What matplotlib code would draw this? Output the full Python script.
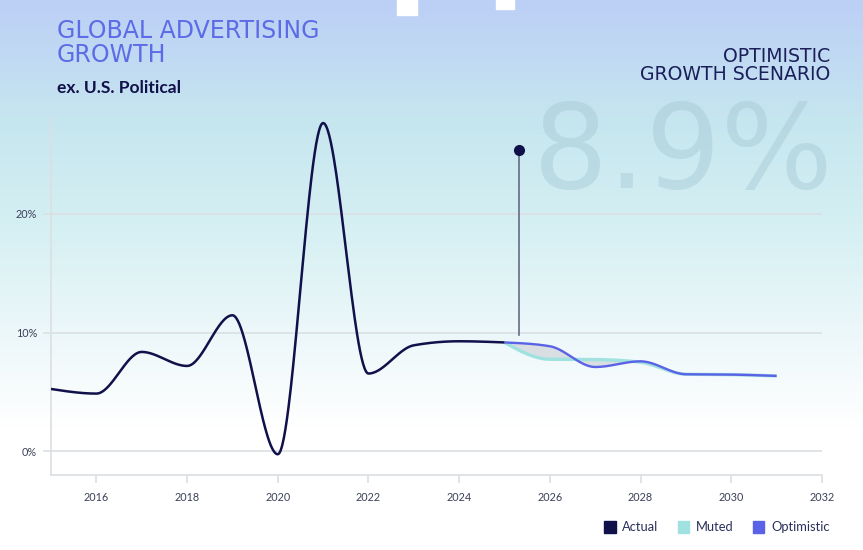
import numpy as np
import matplotlib
matplotlib.use("Agg")
import matplotlib.pyplot as plt
from matplotlib.colors import LinearSegmentedColormap
from matplotlib.patches import Patch, Rectangle

# data
years_actual = [2015, 2016, 2017, 2018, 2019, 2020, 2021, 2022, 2023, 2024, 2025]
growth_actual = [5.25, 4.86, 8.37, 7.19, 11.46, -0.25, 27.66, 6.55, 8.93, 9.27, 9.17]

years_fcst = [2025, 2026, 2027, 2028, 2029, 2030, 2031]
growth_muted = [9.17, 7.75, 7.73, 7.5, 6.49, 6.46, 6.35]
growth_optimistic = [9.17, 8.85, 7.1, 7.58, 6.49, 6.46, 6.35]

marker_year = 2025.33
marker_top = 25.36
marker_bottom = 9.77

headline = "8.9%"

NAVY = "#10104a"
MUTED = "#9fe2df"
OPTI = "#5a62e6"
GRID = "#dcdfe3"
TICKTXT = "#3b4058"


def monotone(x, y, n=60):
    # monotone cubic (same idea as d3 curveMonotoneX)
    x = np.asarray(x, float)
    y = np.asarray(y, float)
    h = np.diff(x)
    s = np.diff(y) / h
    t = np.zeros(len(x))
    for i in range(1, len(x) - 1):
        p = (s[i - 1] * h[i] + s[i] * h[i - 1]) / (h[i - 1] + h[i])
        t[i] = (np.sign(s[i - 1]) + np.sign(s[i])) * min(abs(s[i - 1]), abs(s[i]), 0.5 * abs(p))
    t[0] = (3 * s[0] - t[1]) / 2
    t[-1] = (3 * s[-1] - t[-2]) / 2
    xs, ys = [], []
    for i in range(len(x) - 1):
        u = np.linspace(0, 1, n)
        h00 = 2 * u**3 - 3 * u**2 + 1
        h10 = u**3 - 2 * u**2 + u
        h01 = -2 * u**3 + 3 * u**2
        h11 = u**3 - u**2
        xs.append(x[i] + u * h[i])
        ys.append(h00 * y[i] + h10 * h[i] * t[i] + h01 * y[i + 1] + h11 * h[i] * t[i + 1])
    return np.concatenate(xs), np.concatenate(ys)


plt.rcParams['font.family'] = ['Lato', 'DejaVu Sans']

fig = plt.figure(figsize=(8.63, 5.5), dpi=100)

# background gradient
bg = fig.add_axes([0, 0, 1, 1], zorder=0)
bg.axis('off')
cmap = LinearSegmentedColormap.from_list('bg', [
    (0.0, '#bccff6'),
    (0.22, '#c6e6ef'),
    (0.42, '#d6f0f3'),
    (0.62, '#eef8fa'),
    (0.78, '#ffffff'),
    (1.0, '#ffffff'),
])
bg.imshow(np.linspace(0, 1, 256).reshape(-1, 1), aspect='auto', cmap=cmap,
          extent=[0, 1, 0, 1], origin='upper')
bg.set_xlim(0, 1)
bg.set_ylim(0, 1)
bg.add_patch(Rectangle((397 / 863, 1 - 15 / 550), 20 / 863, 15 / 550, color='white'))
bg.add_patch(Rectangle((496 / 863, 1 - 9 / 550), 18 / 863, 9 / 550, color='white'))

# big faint headline number
bg.text(833 / 863, 1 - 188 / 550, headline, fontsize=85, color='#a3c6d2', alpha=0.42,
        ha='right', va='baseline', family='DejaVu Sans')

ax = fig.add_axes([51 / 863, 75 / 550, 771 / 863, 356 / 550], zorder=1)
ax.patch.set_alpha(0)

xa, ya = monotone(years_actual, growth_actual)
xm, ym = monotone(years_fcst, growth_muted)
xo, yo = monotone(years_fcst, growth_optimistic)

ax.fill_between(xm, ym, yo, color='#c9cdd2', alpha=0.6, lw=0, zorder=2)
ax.plot(xm, ym, color=MUTED, lw=2.4, zorder=3, solid_capstyle='butt')
ax.plot(xo, yo, color=OPTI, lw=1.7, zorder=4, solid_capstyle='butt')
ax.plot(xa, ya, color=NAVY, lw=1.8, zorder=5, solid_capstyle='butt')

ax.plot([marker_year, marker_year], [marker_bottom, marker_top], color='#666a86', lw=1.2, zorder=5)
ax.plot([marker_year], [marker_top], 'o', color=NAVY, ms=7, zorder=6)

ax.set_xlim(2015, 2032)
ax.set_ylim(-2, 28)
ax.set_xticks(range(2016, 2033, 2))
ax.set_yticks([0, 10, 20])
ax.set_yticklabels(['0%', '10%', '20%'])
ax.grid(axis='y', color=GRID, lw=1.2)
ax.set_axisbelow(True)
for side in ['top', 'right']:
    ax.spines[side].set_visible(False)
for side in ['left', 'bottom']:
    ax.spines[side].set_color(GRID)
    ax.spines[side].set_linewidth(1.2)
ax.tick_params(axis='both', colors=GRID, width=1.2, length=6, labelsize=7.8,
               labelcolor=TICKTXT)
ax.tick_params(axis='x', pad=6)
ax.tick_params(axis='y', pad=4)

# titles
fig.text(57 / 863, 1 - 19 / 550, "GLOBAL ADVERTISING\nGROWTH", fontsize=17, color='#5c6be6',
         ha='left', va='top', linespacing=1.0, family='DejaVu Sans')
fig.text(57 / 863, 1 - 93 / 550, "ex. U.S. Political", fontsize=12.5, color=NAVY,
         fontweight='bold', ha='left', va='baseline')
fig.text(830 / 863, 1 - 47 / 550, "OPTIMISTIC\nGROWTH SCENARIO", fontsize=13.6, color='#1a1f5a',
         ha='right', va='top', linespacing=0.92, multialignment='right',
         family='DejaVu Sans')

handles = [Patch(color=NAVY, label='Actual'),
           Patch(color=MUTED, label='Muted'),
           Patch(color=OPTI, label='Optimistic')]
fig.legend(handles=handles, loc='center right', bbox_to_anchor=(841 / 863, 1 - 527 / 550),
           ncol=3, frameon=False, fontsize=9.3, handlelength=0.9, handleheight=1.1,
           handletextpad=0.5, columnspacing=1.5, labelcolor='#2a2f5a')

fig.savefig('out.png', dpi=100)
